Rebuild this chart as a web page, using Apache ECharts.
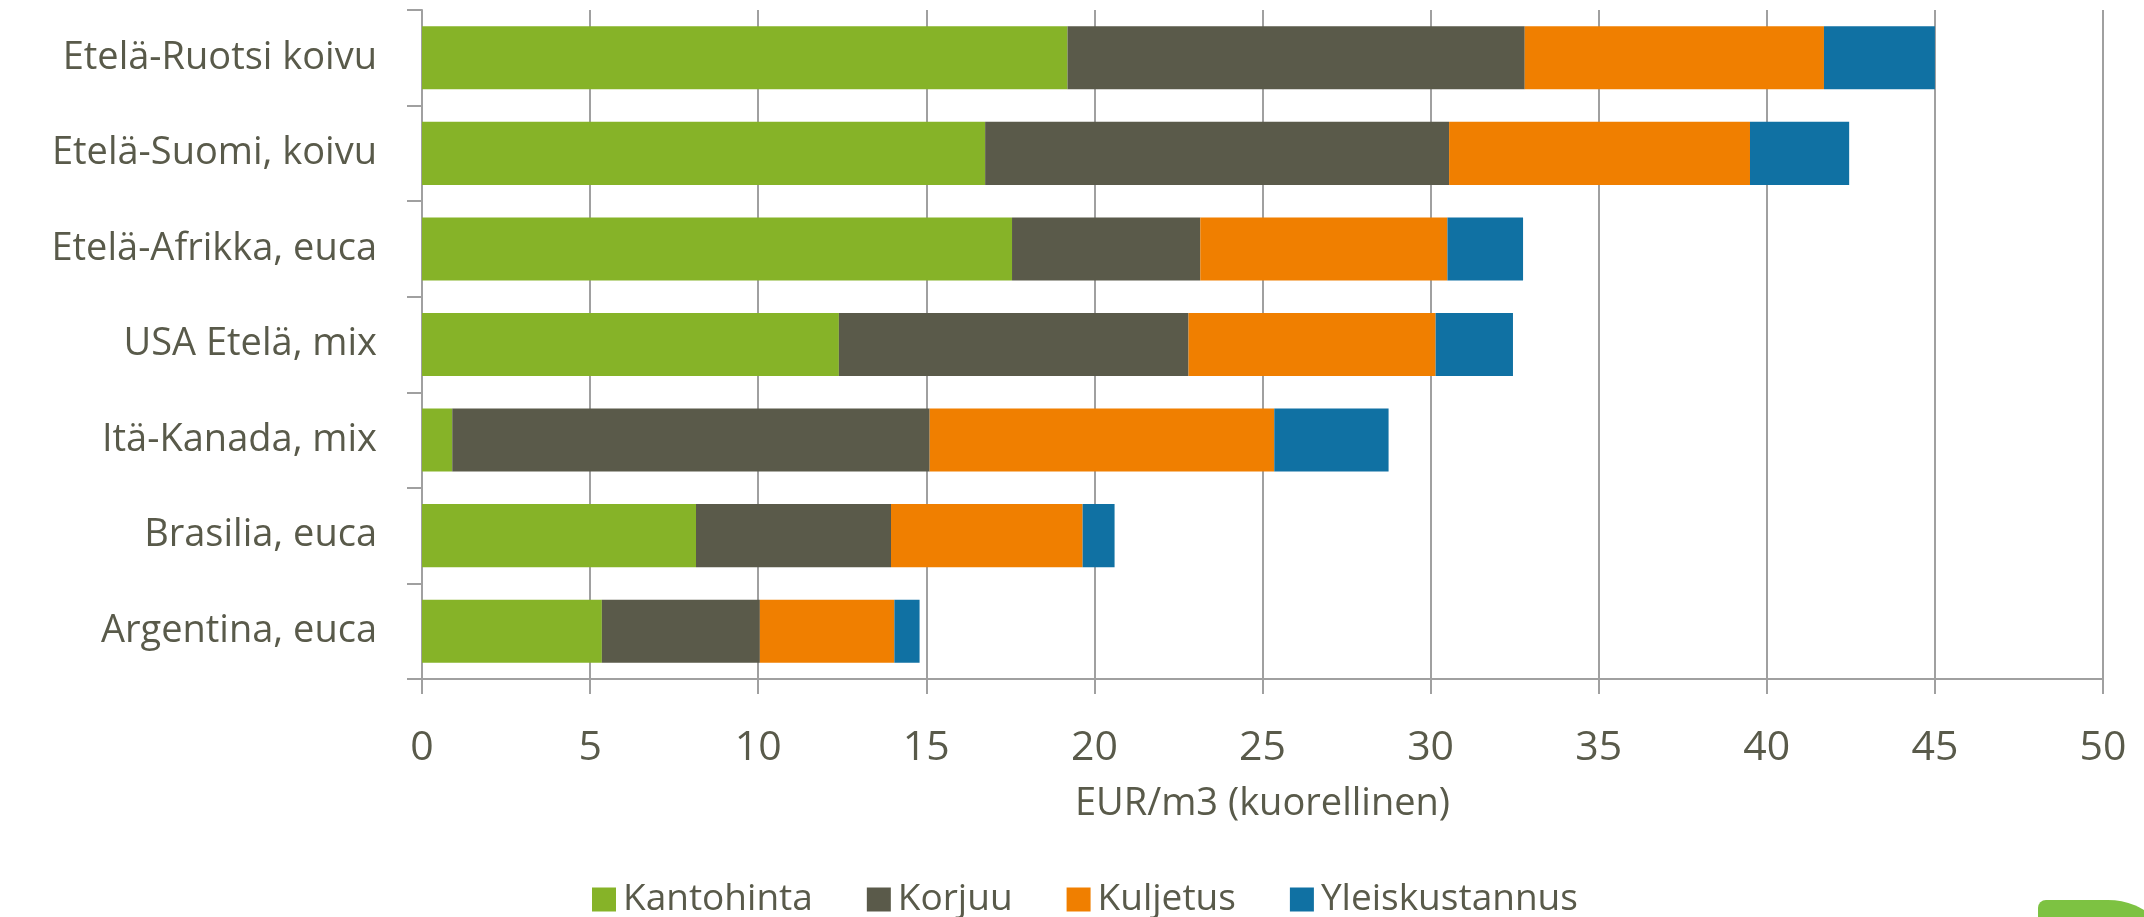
<!DOCTYPE html>
<html style="height: 100%">
<head>
    <meta charset="utf-8">
    <title>Puunhankinnan kustannukset</title>
    <script src="https://cdn.jsdelivr.net/npm/echarts@6/dist/echarts.min.js"></script>
</head>
<body style="margin: 0; height: 100%; background: #fff">
    <div id="main" style="width: 2144px; height: 917px"></div>
    <script>
        // Kategoriat ylhäältä alas
        const regions = ['Etelä-Ruotsi koivu', 'Etelä-Suomi, koivu', 'Etelä-Afrikka, euca',
            'USA Etelä, mix', 'Itä-Kanada, mix', 'Brasilia, euca', 'Argentina, euca'];
        const kantohinta = [19.2, 16.75, 17.55, 12.4, 0.9, 8.15, 5.35];
        const korjuu = [13.6, 13.8, 5.6, 10.4, 14.2, 5.8, 4.7];
        const kuljetus = [8.9, 8.95, 7.35, 7.35, 10.25, 5.7, 4.0];
        const yleiskustannus = [3.3, 2.95, 2.25, 2.3, 3.4, 0.95, 0.75];
        const xTicks = [0, 5, 10, 15, 20, 25, 30, 35, 40, 45, 50];

        const textColor = '#595a4a';
        const lineColor = '#a0a0a0';
        const font = '"Open Sans", sans-serif';

        const chart = echarts.init(document.getElementById('main'));

        function bar(name, data, color) {
            return {
                name: name,
                type: 'bar',
                stack: 'total',
                barCategoryGap: '34%',
                itemStyle: { color: color },
                data: data
            };
        }

        chart.setOption({
            animation: false,
            textStyle: { fontFamily: font, color: textColor },
            grid: { left: 422, right: 41, top: 10, bottom: 238 },
            legend: {
                left: 592,
                top: 881,
                padding: 0,
                itemWidth: 24,
                itemHeight: 24,
                itemGap: 54,
                icon: 'rect',
                textStyle: { fontFamily: font, fontSize: 37, color: textColor, padding: [0, 0, 0, 2] },
                data: ['Kantohinta', 'Korjuu', 'Kuljetus', 'Yleiskustannus']
            },
            xAxis: {
                type: 'value',
                min: xTicks[0],
                max: xTicks[xTicks.length - 1],
                interval: 5,
                name: 'EUR/m3 (kuorellinen)',
                nameLocation: 'middle',
                nameGap: 106,
                nameTextStyle: { fontFamily: font, fontSize: 38, color: textColor },
                axisLine: { show: true, lineStyle: { color: lineColor, width: 2 } },
                axisTick: { show: true, length: 15, lineStyle: { color: lineColor, width: 2 } },
                axisLabel: { fontFamily: font, fontSize: 41, color: textColor, margin: 49 },
                splitLine: { show: true, lineStyle: { color: lineColor, width: 2 } }
            },
            yAxis: {
                type: 'category',
                inverse: true,
                data: regions,
                axisLine: { show: true, lineStyle: { color: lineColor, width: 2 } },
                axisTick: { show: true, length: 15, lineStyle: { color: lineColor, width: 2 } },
                axisLabel: { fontFamily: font, fontSize: 38, color: textColor, margin: 45 }
            },
            graphic: [{
                type: 'rect',
                shape: { x: 2038, y: 900, width: 140, height: 80, r: [8, 70, 0, 0] },
                style: { fill: '#7dc242' }
            }],
            series: [
                bar('Kantohinta', kantohinta, '#86b328'),
                bar('Korjuu', korjuu, '#5a5a4a'),
                bar('Kuljetus', kuljetus, '#f07f00'),
                bar('Yleiskustannus', yleiskustannus, '#1071a3')
            ]
        });
    </script>
</body>
</html>
